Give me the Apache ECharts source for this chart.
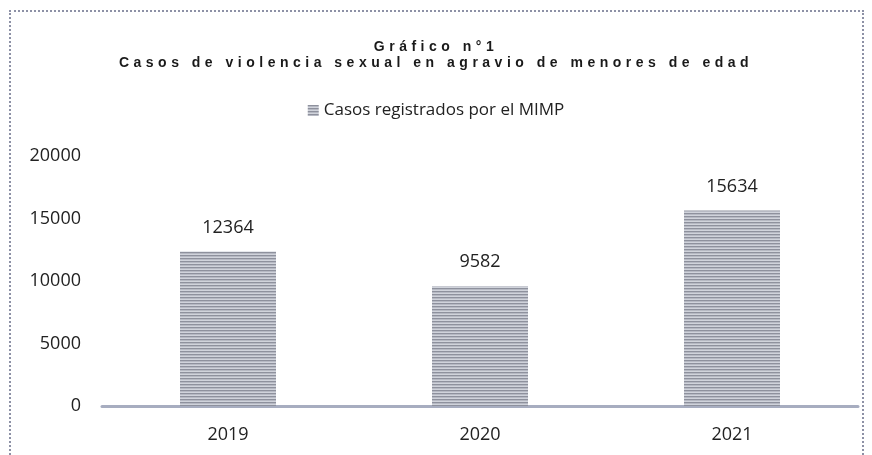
<!DOCTYPE html>
<html>
<head>
<meta charset="utf-8">
<script src="https://cdn.jsdelivr.net/npm/echarts@6/dist/echarts.min.js"></script>
<style>
  html, body { margin: 0; padding: 0; background: #fff; }
  #wrap { position: relative; width: 872px; height: 455px; overflow: hidden; }
  #frame { position: absolute; left: 9px; top: 10px; width: 855px; height: 500px;
           border: 2px dotted #8d91a6; box-sizing: border-box; }
  #title { position: absolute; left: 0; width: 872px; top: 38px; text-align: center;
           font-family: "Liberation Sans", Arial, sans-serif; font-size: 14px; font-weight: bold;
           letter-spacing: 4.5px; line-height: 16px; color: #1a1a1a; }
  #chart { position: absolute; left: 0; top: 0; width: 872px; height: 455px; }
</style>
</head>
<body>
<div id="wrap">
  <div id="frame"></div>
  <div id="chart"></div>
  <div id="title">Gráfico n°1<br>Casos de violencia sexual en agravio de menores de edad</div>
</div>
<script>
  const years = ['2019', '2020', '2021'];
  const casos = [12364, 9582, 15634];
  const yTicks = [0, 5000, 10000, 15000, 20000];
  const seriesName = 'Casos registrados por el MIMP';

  // striped fill like the scanned bars
  const tile = document.createElement('canvas');
  tile.width = 4; tile.height = 3;
  const ctx = tile.getContext('2d');
  ['#8e919d', '#b6b9c3', '#d0d3db'].forEach((c, i) => {
    ctx.fillStyle = c;
    ctx.fillRect(0, i, 4, 1);
  });
  const stripes = { image: tile, repeat: 'repeat' };

  const font = '"Open Sans", sans-serif';
  const chart = echarts.init(document.getElementById('chart'), null, { renderer: 'canvas' });
  chart.setOption({
    animation: false,
    legend: {
      top: 97,
      left: 'center',
      itemWidth: 11,
      itemHeight: 11,
      itemGap: 6,
      icon: 'rect',
      textStyle: { fontFamily: font, fontSize: 17, color: '#222' },
      data: [seriesName],
    },
    grid: { left: 102, right: 14, top: 156, bottom: 49, containLabel: false },
    xAxis: {
      type: 'category',
      data: years,
      axisLine: { lineStyle: { color: '#a7adc0', width: 3 } },
      axisTick: { show: false },
      axisLabel: { fontFamily: font, fontSize: 18, color: '#222', margin: 20 },
    },
    yAxis: {
      type: 'value',
      min: yTicks[0],
      max: yTicks[yTicks.length - 1],
      interval: yTicks[1] - yTicks[0],
      axisLine: { show: false },
      axisTick: { show: false },
      splitLine: { show: false },
      axisLabel: { fontFamily: font, fontSize: 18, color: '#222', margin: 21, formatter: (v) => String(v) },
    },
    series: [{
      name: seriesName,
      type: 'bar',
      data: casos,
      barWidth: 96,
      itemStyle: { color: stripes },
      label: {
        show: true,
        position: 'top',
        distance: 15,
        fontFamily: font,
        fontSize: 18,
        color: '#222',
      },
    }],
  });
</script>
</body>
</html>
